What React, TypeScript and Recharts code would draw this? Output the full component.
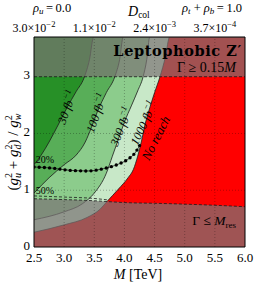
import React from 'react';
import { ComposedChart, Area, Line, XAxis, YAxis, ReferenceArea, ReferenceLine, ReferenceDot } from 'recharts';

const M_TICKS = [2.5, 3.0, 3.5, 4.0, 4.5, 5.0, 5.5, 6.0];
const G_TICKS = [0, 1, 2, 3];
const GRID_M = [3.0, 3.5, 4.0, 4.5, 5.0, 5.5];
const GRID_G = [1, 2];
const DCOL_POS = [2.5, 3.5, 4.5, 5.5];
const DCOL_MANT = ['3.0', '1.1', '2.4', '3.7'];
const DCOL_EXP = ['\u22122', '\u22122', '\u22123', '\u22124'];

const reach30 = [
  { m: 2.5, g: 1.45 }, { m: 2.62, g: 1.62 }, { m: 2.75, g: 1.85 }, { m: 2.9, g: 2.15 },
  { m: 3.05, g: 2.46 }, { m: 3.2, g: 2.74 }, { m: 3.33, g: 2.98 }, { m: 3.42, g: 3.3 },
  { m: 3.49, g: 3.7 }, { m: 6.0, g: 3.7 },
];
const reach100 = [
  { m: 2.5, g: 0.95 }, { m: 2.75, g: 1.22 }, { m: 3.0, g: 1.45 }, { m: 3.2, g: 1.62 },
  { m: 3.35, g: 1.85 }, { m: 3.45, g: 2.1 }, { m: 3.55, g: 2.38 }, { m: 3.7, g: 2.72 },
  { m: 3.84, g: 3.0 }, { m: 3.92, g: 3.3 }, { m: 3.98, g: 3.7 }, { m: 6.0, g: 3.7 },
];
const reach300 = [
  { m: 2.5, g: 0.48 }, { m: 3.0, g: 0.62 }, { m: 3.3, g: 0.76 }, { m: 3.5, g: 0.95 },
  { m: 3.7, g: 1.3 }, { m: 3.8, g: 1.6 }, { m: 3.9, g: 1.9 }, { m: 4.0, g: 2.2 },
  { m: 4.12, g: 2.5 }, { m: 4.22, g: 2.75 }, { m: 4.31, g: 3.0 }, { m: 4.37, g: 3.3 },
  { m: 4.42, g: 3.7 }, { m: 6.0, g: 3.7 },
];
const reach1000 = [
  { m: 2.5, g: 0.26 }, { m: 3.0, g: 0.39 }, { m: 3.38, g: 0.52 }, { m: 3.6, g: 0.67 },
  { m: 3.71, g: 0.8 }, { m: 3.9, g: 1.02 }, { m: 4.06, g: 1.22 }, { m: 4.15, g: 1.37 },
  { m: 4.22, g: 1.6 }, { m: 4.28, g: 1.85 }, { m: 4.34, g: 2.15 }, { m: 4.42, g: 2.45 },
  { m: 4.5, g: 2.72 }, { m: 4.59, g: 3.0 }, { m: 4.68, g: 3.35 }, { m: 4.75, g: 3.7 },
  { m: 6.0, g: 3.7 },
];
const widthRes = [
  { m: 2.5, g: 0.85 }, { m: 3.0, g: 0.835 }, { m: 3.5, g: 0.815 }, { m: 3.72, g: 0.8 },
  { m: 4.06, g: 0.78 }, { m: 4.5, g: 0.77 }, { m: 5.0, g: 0.755 }, { m: 5.5, g: 0.735 },
  { m: 6.0, g: 0.71 },
];
const frac50 = [
  { m: 2.5, g: 0.9 }, { m: 3.0, g: 0.88 }, { m: 3.5, g: 0.855 }, { m: 3.72, g: 0.83 },
];
const frac20 = [
  { m: 2.5, g: 1.41 }, { m: 2.8, g: 1.39 }, { m: 3.1, g: 1.35 }, { m: 3.4, g: 1.34 },
  { m: 3.65, g: 1.38 }, { m: 3.9, g: 1.46 }, { m: 4.05, g: 1.54 }, { m: 4.17, g: 1.65 },
  { m: 4.26, g: 1.8 },
];

const FONT = '"Liberation Serif", "DejaVu Serif", serif';
const C30 = '#279027';
const C100 = '#58ae58';
const C300 = '#8ccc8c';
const C1000 = '#c8e8c8';
const RED = '#ff0000';
const VEIL = '#7a7474';
const LINE = '#1a1a1a';
const G_MAX = 3.7;

type TxtOpts = { anchor?: string; rot?: number; size?: number; italic?: boolean; bold?: boolean; family?: string; central?: boolean; dy?: number; spacing?: number };
const txt = (content: React.ReactNode, o: TxtOpts) => (p: any) => (
  <text
    x={p.cx}
    y={p.cy + (o.dy ?? 0)}
    textAnchor={o.anchor ?? 'middle'}
    dominantBaseline={o.central ? 'central' : undefined}
    transform={o.rot ? `rotate(${o.rot}, ${p.cx}, ${p.cy})` : undefined}
    fontFamily={o.family ?? FONT}
    fontSize={o.size ?? 12}
    fontStyle={o.italic ? 'italic' : 'normal'}
    fontWeight={o.bold ? 'bold' : 'normal'}
    letterSpacing={o.spacing}
    fill="#000"
  >
    {content}
  </text>
);

const fb = (n: string) => (
  <>
    {n} fb<tspan fontSize={8.5} dy={-5}>{'\u22121'}</tspan>
  </>
);

const YTick = (props: any) => {
  const { x, y, payload } = props;
  return (
    <text x={x} y={y - 2} textAnchor="end" dominantBaseline="central" fontFamily={FONT} fontSize={13} fill="#000">
      {payload.value}
    </text>
  );
};

export default function App() {
  return (
    <div style={{ position: 'absolute', left: 0, top: 0, width: 258, height: 286, background: '#fff' }}>
      <ComposedChart width={258} height={286} margin={{ top: 37, right: 13, bottom: 14, left: 0 }}>
        <XAxis
          dataKey="m"
          type="number"
          domain={[2.5, 6]}
          ticks={M_TICKS}
          allowDataOverflow
          tickFormatter={(v: number) => v.toFixed(1)}
          tick={{ fontFamily: FONT, fontSize: 13, fill: '#000' }}
          tickSize={0}
          tickMargin={6}
          axisLine={false}
          tickLine={false}
          height={25}
          interval={0}
        />
        <YAxis
          type="number"
          domain={[0, G_MAX]}
          ticks={G_TICKS}
          allowDataOverflow
          tick={<YTick />}
          tickSize={0}
          tickMargin={4}
          axisLine={false}
          tickLine={false}
          width={34}
          interval={0}
        />

        <ReferenceArea x1={2.5} x2={6} y1={0} y2={G_MAX} fill={C30} fillOpacity={1} stroke="none" zIndex={1} />
        <Area data={reach30} dataKey="g" type="monotone" baseValue={0} fill={C100} fillOpacity={1} stroke={LINE} strokeWidth={0.8} isAnimationActive={false} zIndex={2} />
        <Area data={reach100} dataKey="g" type="monotone" baseValue={0} fill={C300} fillOpacity={1} stroke={LINE} strokeWidth={0.8} isAnimationActive={false} zIndex={3} />
        <Area data={reach300} dataKey="g" type="monotone" baseValue={0} fill={C1000} fillOpacity={1} stroke={LINE} strokeWidth={0.8} isAnimationActive={false} zIndex={4} />
        <Area data={reach1000} dataKey="g" type="monotone" baseValue={0} fill={RED} fillOpacity={1} stroke={LINE} strokeWidth={0.8} isAnimationActive={false} zIndex={5} />

        <ReferenceArea x1={2.5} x2={6} y1={3} y2={G_MAX} fill={VEIL} fillOpacity={0.7} stroke="none" zIndex={6} />
        <Area data={widthRes} dataKey="g" type="monotone" baseValue={0} fill={VEIL} fillOpacity={0.72} stroke={LINE} strokeWidth={0.8} strokeDasharray="3 2" isAnimationActive={false} zIndex={7} />
        <ReferenceLine y={3} stroke={LINE} strokeWidth={0.8} strokeDasharray="3 2" zIndex={8} />

        <Line data={frac50} dataKey="g" type="monotone" stroke={LINE} strokeWidth={0.8} strokeDasharray="3 2" dot={false} isAnimationActive={false} zIndex={9} />
        <Line data={frac20} dataKey="g" type="monotone" stroke={LINE} strokeWidth={0.8} dot={false} isAnimationActive={false} zIndex={10} />
        <Line data={frac20} dataKey="g" type="monotone" stroke="#000" strokeWidth={3.4} strokeDasharray="0 5.2" strokeLinecap="round" dot={false} isAnimationActive={false} zIndex={11} />

        {GRID_M.map((v) => (
          <ReferenceLine key={'gx' + v} x={v} stroke="#000" strokeOpacity={0.35} strokeWidth={0.8} strokeDasharray="1 2" zIndex={12} />
        ))}
        {GRID_G.map((v) => (
          <ReferenceLine key={'gy' + v} y={v} stroke="#000" strokeOpacity={0.35} strokeWidth={0.8} strokeDasharray="1 2" zIndex={12} />
        ))}

        {DCOL_POS.map((v, i) => (
          <ReferenceDot key={'dc' + v} x={v} y={G_MAX} r={0} ifOverflow="visible" zIndex={13}
            shape={txt(<>{DCOL_MANT[i]}{'\u00d7'}10<tspan fontSize={8.5} dy={-5}>{DCOL_EXP[i]}</tspan></>, { size: 12, dy: -5 })} />
        ))}

        <ReferenceDot x={5.95} y={3.36} r={0} ifOverflow="visible" zIndex={13}
          shape={txt('Leptophobic Z\u2032', { anchor: 'end', size: 14.5, bold: true, family: '"DejaVu Serif", serif', spacing: 0.6 })} />
        <ReferenceDot x={5.85} y={3.08} r={0} ifOverflow="visible" zIndex={13}
          shape={txt(<>{'\u0393 \u2265 0.15'}<tspan fontStyle="italic">M</tspan></>, { anchor: 'end', size: 14 })} />
        <ReferenceDot x={5.85} y={0.39} r={0} ifOverflow="visible" zIndex={13}
          shape={txt(<>{'\u0393 \u2264 '}<tspan fontStyle="italic">M</tspan><tspan fontSize={9} dy={3}>res</tspan></>, { anchor: 'end', size: 13.5 })} />
        <ReferenceDot x={2.53} y={1.48} r={0} ifOverflow="visible" zIndex={13}
          shape={txt('20%', { anchor: 'start', size: 10 })} />
        <ReferenceDot x={2.53} y={0.93} r={0} ifOverflow="visible" zIndex={13}
          shape={txt('50%', { anchor: 'start', size: 10 })} />
        <ReferenceDot x={3.05} y={2.46} r={0} ifOverflow="visible" zIndex={13}
          shape={txt(fb('30'), { rot: -70, size: 12, italic: true, central: true })} />
        <ReferenceDot x={3.54} y={2.36} r={0} ifOverflow="visible" zIndex={13}
          shape={txt(fb('100'), { rot: -70, size: 12, italic: true, central: true })} />
        <ReferenceDot x={3.95} y={2.12} r={0} ifOverflow="visible" zIndex={13}
          shape={txt(fb('300'), { rot: -68, size: 12, italic: true, central: true })} />
        <ReferenceDot x={4.32} y={2.18} r={0} ifOverflow="visible" zIndex={13}
          shape={txt(fb('1000'), { rot: -65, size: 12, italic: true, central: true })} />
        <ReferenceDot x={4.52} y={1.92} r={0} ifOverflow="visible" zIndex={13}
          shape={txt('No reach', { rot: -63, size: 13, italic: true, central: true })} />

        <ReferenceArea x1={2.5} x2={6} y1={0} y2={G_MAX} fill="none" stroke="#000" strokeWidth={1} zIndex={14} />
      </ComposedChart>

      <svg width={258} height={286} style={{ position: 'absolute', left: 0, top: 0, pointerEvents: 'none' }}>
        <text x={33} y={12} fontFamily={FONT} fontSize={12.5} fill="#000">
          <tspan fontStyle="italic">{'\u03c1'}</tspan>
          <tspan fontSize={9} fontStyle="italic" dy={2}>u</tspan>
          <tspan dy={-2}>{'\u2009=\u20090.0'}</tspan>
        </text>
        <text x={128} y={16} fontFamily={FONT} fontSize={14} fill="#000">
          <tspan fontStyle="italic">D</tspan>
          <tspan fontSize={9.5} dy={2}>col</tspan>
        </text>
        <text x={182} y={12} fontFamily={FONT} fontSize={12.5} fill="#000">
          <tspan fontStyle="italic">{'\u03c1'}</tspan>
          <tspan fontSize={9} fontStyle="italic" dy={2}>t</tspan>
          <tspan dy={-2}>{' + '}</tspan>
          <tspan fontStyle="italic">{'\u03c1'}</tspan>
          <tspan fontSize={9} fontStyle="italic" dy={2}>b</tspan>
          <tspan dy={-2}>{'\u2009=\u20091.0'}</tspan>
        </text>
        <text x={138} y={279} textAnchor="middle" fontFamily={FONT} fontSize={14} fill="#000">
          <tspan fontStyle="italic">M</tspan>
          <tspan>{' [TeV]'}</tspan>
        </text>
        <text transform="translate(18,152) rotate(-90)" x={0} y={0} textAnchor="middle" fontFamily={FONT} fontSize={15} fill="#000">
          <tspan>(</tspan>
          <tspan fontStyle="italic">g</tspan>
          <tspan fontSize={10} dy={-6}>2</tspan>
          <tspan fontSize={10} fontStyle="italic" dx={-5} dy={9}>u</tspan>
          <tspan dy={-3}>{' + '}</tspan>
          <tspan fontStyle="italic">g</tspan>
          <tspan fontSize={10} dy={-6}>2</tspan>
          <tspan fontSize={10} fontStyle="italic" dx={-5} dy={9}>d</tspan>
          <tspan dy={-3}>{') / '}</tspan>
          <tspan fontStyle="italic">g</tspan>
          <tspan fontSize={10} dy={-6}>2</tspan>
          <tspan fontSize={10} fontStyle="italic" dx={-5} dy={9}>w</tspan>
        </text>
      </svg>
    </div>
  );
}
